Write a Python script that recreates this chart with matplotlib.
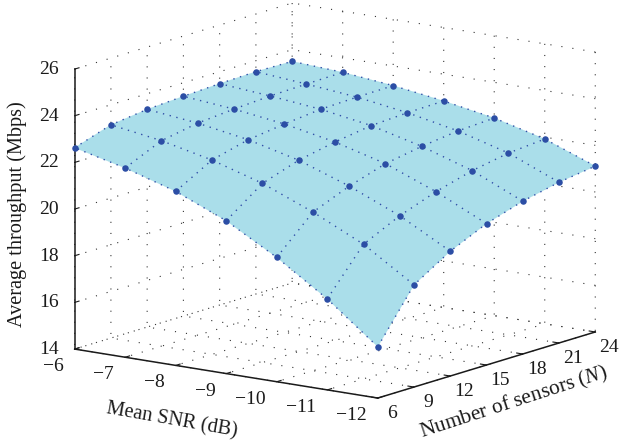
import matplotlib
matplotlib.use('Agg')
import matplotlib.pyplot as plt
import numpy as np

plt.rcParams['font.family'] = ['Liberation Serif', 'DejaVu Serif']
plt.rcParams['mathtext.fontset'] = 'custom'
plt.rcParams['mathtext.it'] = 'Liberation Serif:italic'
plt.rcParams['mathtext.rm'] = 'Liberation Serif'

# Data
sensors = [6, 9, 12, 15, 18, 21, 24]
snr = [-12, -11, -10, -9, -8, -7, -6]
thr_m12 = [16.20, 18.38, 19.35, 20.06, 20.55, 20.89, 21.11]
thr_m11 = [17.90, 19.77, 20.52, 21.08, 21.51, 21.79, 21.92]
thr_m10 = [19.33, 20.80, 21.44, 21.93, 22.20, 22.39, 22.47]
thr_m9 = [20.55, 21.68, 22.20, 22.51, 22.74, 22.82, 22.85]
thr_m8 = [21.46, 22.33, 22.73, 22.93, 23.09, 23.14, 23.16]
thr_m7 = [22.11, 22.81, 23.09, 23.22, 23.31, 23.35, 23.38]
thr_m6 = [22.63, 23.14, 23.33, 23.42, 23.49, 23.53, 23.50]
z_ticks = [14, 16, 18, 20, 22, 24, 26]

X, Y = np.meshgrid(sensors, snr)
Z = np.array([thr_m12, thr_m11, thr_m10, thr_m9, thr_m8, thr_m7, thr_m6])

fig = plt.figure(figsize=(6.23, 4.45), dpi=100)
ax = fig.add_subplot(111, projection='3d', computed_zorder=False)
ax.set_proj_type('ortho')
ax.view_init(elev=12.8, azim=216.1)
ax.set_box_aspect((369, 375, 287))
ax.set_position([36.1 / 623, -54.4 / 445, 582 / 623, 582 / 445])
ax.patch.set_alpha(0)

ax.set_xlim(6, 24)
ax.set_ylim(-12, -6)
ax.set_zlim(14, 26)
ax.set_xticks(sensors)
ax.set_yticks(snr)
ax.set_zticks(z_ticks)
ax.tick_params(labelsize=14, colors='#1a1a1a')
ax.tick_params(axis='x', pad=2)
ax.tick_params(axis='y', pad=3)
ax.tick_params(axis='z', pad=-1.5)
ax.zaxis.set_ticks_position('upper')

for axis in (ax.xaxis, ax.yaxis, ax.zaxis):
    axis.set_pane_color((1, 1, 1, 0))
    axis.pane.set_edgecolor('none')
    axis.line.set_color('#1a1a1a')
    axis.line.set_linewidth(1.1)
    axis._axinfo['grid'].update(color='#333333', linewidth=0.8, linestyle=(0, (1, 9)))
    axis._axinfo['tick'].update(inward_factor=0.0, outward_factor=0.25)

# surface, then the dotted mesh and the markers on top
ax.plot_surface(X, Y, Z, color='#aadeea', shade=False, linewidth=0.2,
                edgecolor='#aadeea', rstride=1, cstride=1, zorder=1)
for i in range(len(snr)):
    ax.plot(X[i], Y[i], Z[i], color='#2f4fa8', lw=1, ls=(0, (1, 4)), zorder=2)
for j in range(len(sensors)):
    ax.plot(X[:, j], Y[:, j], Z[:, j], color='#2f4fa8', lw=1, ls=(0, (1, 4)), zorder=2)
ax.scatter(X.ravel(), Y.ravel(), Z.ravel(), color='#2c4ea5', s=22, depthshade=False,
           linewidths=0, zorder=3)

plt.setp(ax.get_xticklabels(), ha='center', va='center')
plt.setp(ax.get_yticklabels(), ha='right', va='center')
plt.setp(ax.get_zticklabels(), ha='right', va='center')

fig.text(17 / 623, 1 - 214 / 445, 'Average throughput (Mbps)', rotation=90,
         ha='center', va='center', fontsize=14.6, color='#1a1a1a')
fig.text(172 / 623, 1 - 421 / 445, 'Mean SNR (dB)', rotation=-10,
         ha='center', va='center', fontsize=14.6, color='#1a1a1a')
fig.text(514 / 623, 1 - 403 / 445, 'Number of sensors ($\\mathit{N}$)', rotation=18,
         ha='center', va='center', fontsize=15.4, color='#1a1a1a')

fig.savefig('out.png', dpi=100)
